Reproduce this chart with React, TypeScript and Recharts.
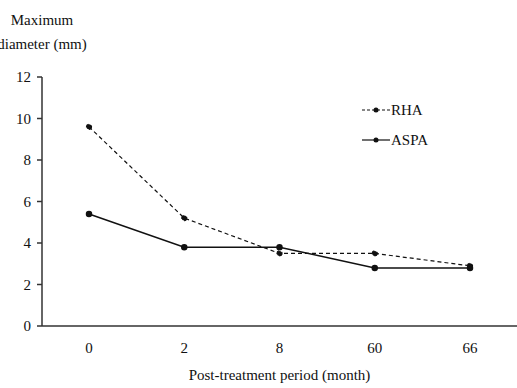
import React from 'react';
import { LineChart, Line, XAxis, YAxis } from 'recharts';

const months = ['0', '2', '8', '60', '66'];
const rha = [9.6, 5.2, 3.5, 3.5, 2.9];
const aspa = [5.4, 3.8, 3.8, 2.8, 2.8];
const yTicks = [0, 2, 4, 6, 8, 10, 12];

const data = months.map((m, i) => ({ month: m, RHA: rha[i], ASPA: aspa[i] }));

const font = '"Liberation Serif", "Times New Roman", serif';

const LegendBox = () => (
    <div style={{ position: 'absolute', left: 362, top: 95, fontFamily: font, fontSize: 15, color: '#111' }}>
        {[
            { name: 'RHA', dash: '3 2' },
            { name: 'ASPA', dash: undefined },
        ].map((it) => (
            <div key={it.name} style={{ display: 'flex', alignItems: 'center', height: 30 }}>
                <svg width={28} height={10}>
                    <line x1={0} y1={5} x2={28} y2={5} stroke="#111" strokeWidth={1.2} strokeDasharray={it.dash} />
                    <circle cx={14} cy={5} r={2.5} fill="#111" />
                </svg>
                <span style={{ marginLeft: 1 }}>{it.name}</span>
            </div>
        ))}
    </div>
);

const App: React.FC = () => {
    return (
        <div style={{ position: 'absolute', left: 0, top: 0, width: 517, height: 388, background: '#fff', fontFamily: font }}>
            <LineChart width={517} height={388} data={data} margin={{ top: 77, right: 0, left: 0, bottom: 0 }}>
                <XAxis
                    dataKey="month"
                    height={62}
                    tickLine={false}
                    padding={{ left: 47, right: 47 }}
                    stroke="#333"
                    strokeWidth={1.5}
                    tick={{ fill: '#111', fontSize: 15, fontFamily: font }}
                    tickMargin={10}
                />
                <YAxis
                    width={42}
                    domain={[0, 12]}
                    ticks={yTicks}
                    stroke="#333"
                    strokeWidth={1.5}
                    tickSize={5}
                    tick={{ fill: '#111', fontSize: 15, fontFamily: font }}
                    tickMargin={6}
                />
                <Line
                    dataKey="RHA"
                    stroke="#111"
                    strokeWidth={1.2}
                    strokeDasharray="4 3"
                    dot={{ r: 2.5, fill: '#111', stroke: '#111' }}
                    isAnimationActive={false}
                />
                <Line
                    dataKey="ASPA"
                    stroke="#111"
                    strokeWidth={1.5}
                    dot={{ r: 2.5, fill: '#111', stroke: '#111' }}
                    isAnimationActive={false}
                />
            </LineChart>
            <LegendBox />
            <div style={{ position: 'absolute', left: -28, top: 8, width: 140, textAlign: 'center', fontSize: 15, lineHeight: '24px', color: '#111' }}>
                Maximum
                <br />
                diameter (mm)
            </div>
            <div style={{ position: 'absolute', left: 42, top: 367, width: 475, textAlign: 'center', fontSize: 15, color: '#111' }}>
                Post-treatment period (month)
            </div>
        </div>
    );
};

export default App;
